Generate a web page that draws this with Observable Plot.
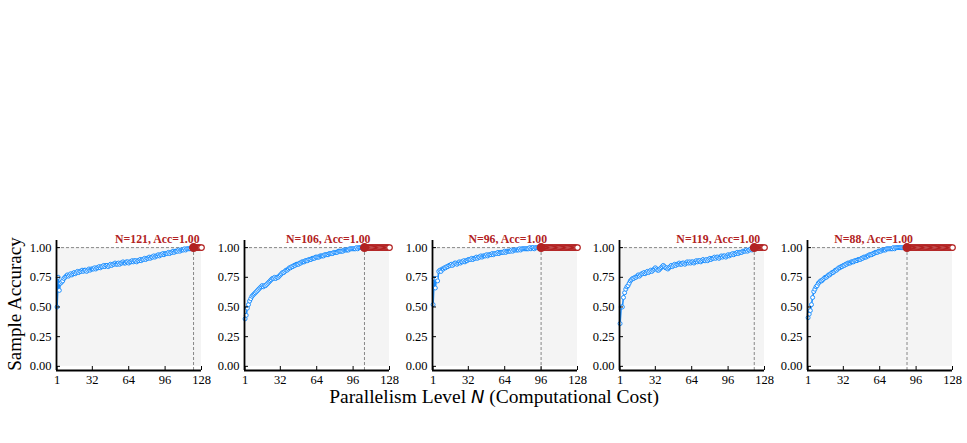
<!DOCTYPE html>
<html><head><meta charset="utf-8">
<script src="https://cdn.jsdelivr.net/npm/d3@7"></script>
<script src="https://cdn.jsdelivr.net/npm/@observablehq/plot@0.6"></script>
<style>
body{margin:0;background:#fff;}
#wrap{position:relative;width:967px;height:443px;font-family:"Liberation Serif","Times New Roman",serif;color:#000;overflow:hidden;}
.panel{position:absolute;top:210px;}
#ylab{position:absolute;left:15px;top:304px;transform:translate(-50%,-50%) rotate(-90deg);font-size:19px;white-space:nowrap;}
#xlab{position:absolute;left:494px;top:397px;transform:translate(-50%,-50%);font-size:19.5px;white-space:nowrap;}
#xlab i{font-family:"DejaVu Sans",sans-serif;font-style:italic;font-size:18px;}
</style></head><body>
<div id="wrap">
  <div id="ylab">Sample Accuracy</div>
  <div id="xlab">Parallelism Level <i>N</i> (Computational Cost)</div>
</div>
<script>
// Peak parallelism level per panel
const peakN = [121, 106, 96, 119, 88];
const plateauAcc = 1.00;
const maxN = 128;

// Sample accuracy for N = 1..peak, per panel
const acc1 = [
0.50,0.75,0.64,0.70,0.71,0.72,0.74,0.75,0.76,0.77,0.76,0.77,0.78,0.77,0.78,0.79,
0.78,0.79,0.80,0.79,0.80,0.80,0.81,0.80,0.81,0.81,0.80,0.81,0.82,0.81,0.82,0.82,
0.82,0.83,0.82,0.83,0.83,0.84,0.83,0.84,0.84,0.85,0.84,0.85,0.85,0.84,0.85,0.86,
0.85,0.86,0.86,0.87,0.86,0.86,0.87,0.86,0.87,0.87,0.88,0.87,0.87,0.88,0.88,0.87,
0.88,0.88,0.89,0.88,0.89,0.89,0.88,0.89,0.89,0.90,0.89,0.90,0.90,0.91,0.90,0.91,
0.91,0.92,0.91,0.92,0.92,0.93,0.92,0.93,0.93,0.94,0.93,0.94,0.94,0.95,0.94,0.95,
0.95,0.95,0.96,0.95,0.96,0.96,0.97,0.96,0.97,0.97,0.97,0.98,0.97,0.98,0.98,0.98,
0.99,0.98,0.99,0.99,0.99,0.99,1.00,0.99,1.00];
const acc2 = [
0.40,0.43,0.49,0.52,0.55,0.57,0.59,0.60,0.61,0.62,0.63,0.64,0.65,0.66,0.67,0.68,
0.67,0.68,0.68,0.69,0.70,0.71,0.72,0.73,0.74,0.74,0.75,0.74,0.75,0.75,0.76,0.77,
0.78,0.79,0.79,0.80,0.81,0.81,0.82,0.83,0.83,0.84,0.84,0.85,0.85,0.86,0.86,0.86,
0.87,0.87,0.88,0.88,0.88,0.89,0.89,0.89,0.90,0.90,0.90,0.91,0.91,0.91,0.92,0.92,
0.92,0.92,0.93,0.93,0.93,0.93,0.94,0.94,0.94,0.94,0.95,0.95,0.95,0.95,0.96,0.96,
0.96,0.96,0.97,0.97,0.97,0.97,0.97,0.98,0.98,0.98,0.98,0.98,0.99,0.99,0.99,0.99,
0.99,0.99,1.00,0.99,1.00,1.00,1.00,1.00,1.00,1.00];
const acc3 = [
0.52,0.74,0.66,0.74,0.72,0.80,0.81,0.80,0.82,0.82,0.83,0.83,0.84,0.84,0.85,0.85,
0.86,0.85,0.86,0.87,0.87,0.86,0.87,0.88,0.87,0.88,0.88,0.89,0.88,0.89,0.89,0.90,
0.90,0.90,0.91,0.90,0.91,0.91,0.92,0.91,0.92,0.92,0.93,0.92,0.93,0.93,0.93,0.94,
0.93,0.94,0.94,0.94,0.95,0.94,0.95,0.95,0.95,0.96,0.95,0.96,0.96,0.96,0.96,0.97,
0.96,0.97,0.97,0.97,0.97,0.98,0.97,0.98,0.98,0.98,0.98,0.98,0.99,0.98,0.99,0.99,
0.99,0.99,0.99,0.99,0.99,1.00,0.99,1.00,1.00,0.99,1.00,1.00,1.00,1.00,1.00,1.00];
const acc4 = [
0.36,0.50,0.50,0.58,0.62,0.65,0.67,0.68,0.70,0.72,0.73,0.74,0.74,0.75,0.75,0.76,
0.77,0.76,0.77,0.78,0.78,0.79,0.78,0.79,0.80,0.79,0.80,0.81,0.80,0.81,0.82,0.83,
0.82,0.81,0.81,0.82,0.83,0.84,0.85,0.84,0.83,0.83,0.82,0.83,0.84,0.85,0.84,0.85,
0.86,0.85,0.86,0.86,0.87,0.86,0.86,0.87,0.87,0.86,0.87,0.88,0.87,0.88,0.87,0.88,
0.88,0.87,0.88,0.89,0.88,0.89,0.89,0.88,0.89,0.90,0.89,0.89,0.90,0.89,0.90,0.91,
0.90,0.91,0.91,0.92,0.91,0.92,0.92,0.91,0.92,0.93,0.92,0.93,0.93,0.92,0.93,0.94,
0.93,0.94,0.94,0.95,0.94,0.95,0.95,0.96,0.95,0.96,0.96,0.96,0.97,0.97,0.97,0.98,
0.97,0.98,0.98,0.99,0.98,0.99,1.00];
const acc5 = [
0.41,0.44,0.47,0.52,0.58,0.63,0.65,0.67,0.68,0.70,0.71,0.72,0.72,0.73,0.74,0.75,
0.75,0.76,0.77,0.77,0.78,0.79,0.79,0.80,0.81,0.81,0.82,0.83,0.83,0.84,0.84,0.85,
0.85,0.86,0.86,0.87,0.87,0.87,0.88,0.88,0.88,0.89,0.89,0.89,0.90,0.90,0.90,0.91,
0.91,0.92,0.92,0.92,0.93,0.93,0.94,0.94,0.94,0.95,0.95,0.96,0.96,0.96,0.97,0.97,
0.97,0.98,0.98,0.98,0.98,0.99,0.99,0.99,0.99,0.99,0.99,1.00,0.99,1.00,1.00,1.00,
1.00,1.00,1.00,1.00,1.00,1.00,1.00,1.00];
const series = [acc1, acc2, acc3, acc4, acc5];

const xTicks = [1, 32, 64, 96, 128];
const yTicks = [0, 0.25, 0.5, 0.75, 1.0];
const xDomain = [0.5, 128];
const yDomain = [-0.035, 1.06];
const shadeRange = [0, 1];

const BLUE = "#1E90FF", RED = "#B22222", DASH = "#7a7a7a";
const mL = 50, mR = 14, mT = 30, mB = 30, innerW = 145, innerH = 130;
const wrap = document.getElementById("wrap");

series.forEach((vals, i) => {
  const N = peakN[i];
  const blue = vals.map((v, j) => ({n: j + 1, acc: v}));
  const red = d3.range(N, maxN + 1).map(n => ({n, acc: plateauAcc}));
  const peak = [{n: N, acc: vals[N - 1]}];
  const chart = Plot.plot({
    width: mL + innerW + mR, height: mT + innerH + mB,
    marginLeft: mL, marginRight: mR, marginTop: mT, marginBottom: mB,
    x: {domain: xDomain},
    y: {domain: yDomain},
    style: {fontFamily: '"Liberation Serif","Times New Roman",serif', fontSize: "12px", color: "#000", background: "transparent", overflow: "visible"},
    marks: [
      Plot.rect([0], {x1: xDomain[0], x2: xDomain[1], y1: shadeRange[0], y2: shadeRange[1], fill: "#f4f4f4"}),
      Plot.ruleY(peak, {y: "acc", x1: xDomain[0], x2: "n", stroke: DASH, strokeWidth: 0.9, strokeDasharray: "3,2"}),
      Plot.ruleX(peak, {x: "n", y1: yDomain[0], y2: "acc", stroke: DASH, strokeWidth: 0.9, strokeDasharray: "3,2"}),
      Plot.line(blue, {x: "n", y: "acc", stroke: BLUE, strokeWidth: 1.6}),
      Plot.dot(blue, {x: "n", y: "acc", r: 2, fill: "white", stroke: BLUE, strokeWidth: 1}),
      Plot.line(red, {x: "n", y: "acc", stroke: RED, strokeWidth: 2}),
      Plot.dot(red, {x: "n", y: "acc", r: 2.8, fill: "white", stroke: RED, strokeWidth: 1.2}),
      Plot.dot(peak, {x: "n", y: "acc", r: 4.5, fill: RED}),
      Plot.text(peak, {x: "n", y: "acc", text: d => `N=${d.n}, Acc=${d.acc.toFixed(2)}`, textAnchor: "end", lineAnchor: "bottom", dx: 6, dy: -5, fill: RED, fontWeight: "bold", fontSize: 11.8}),
      Plot.tickX(xTicks, {x: d => d, insetTop: innerH - 4, stroke: "#000", strokeWidth: 1}),
      Plot.tickY(yTicks, {y: d => d, insetRight: innerW - 4, stroke: "#000", strokeWidth: 1}),
      Plot.ruleX([xDomain[0]], {stroke: "#000", strokeWidth: 1.8}),
      Plot.ruleY([yDomain[0]], {stroke: "#000", strokeWidth: 1.8}),
      Plot.axisX({ticks: xTicks, tickSize: 0, tickPadding: 5, label: null, fontSize: 12.5}),
      Plot.axisY({ticks: yTicks, tickSize: 0, tickPadding: 5, label: null, tickFormat: d3.format(".2f"), fontSize: 12.5})
    ]
  });
  const div = document.createElement("div");
  div.className = "panel";
  div.style.left = (56 + i * 187.75 - mL) + "px";
  div.appendChild(chart);
  wrap.appendChild(div);
});
</script>
</body></html>
